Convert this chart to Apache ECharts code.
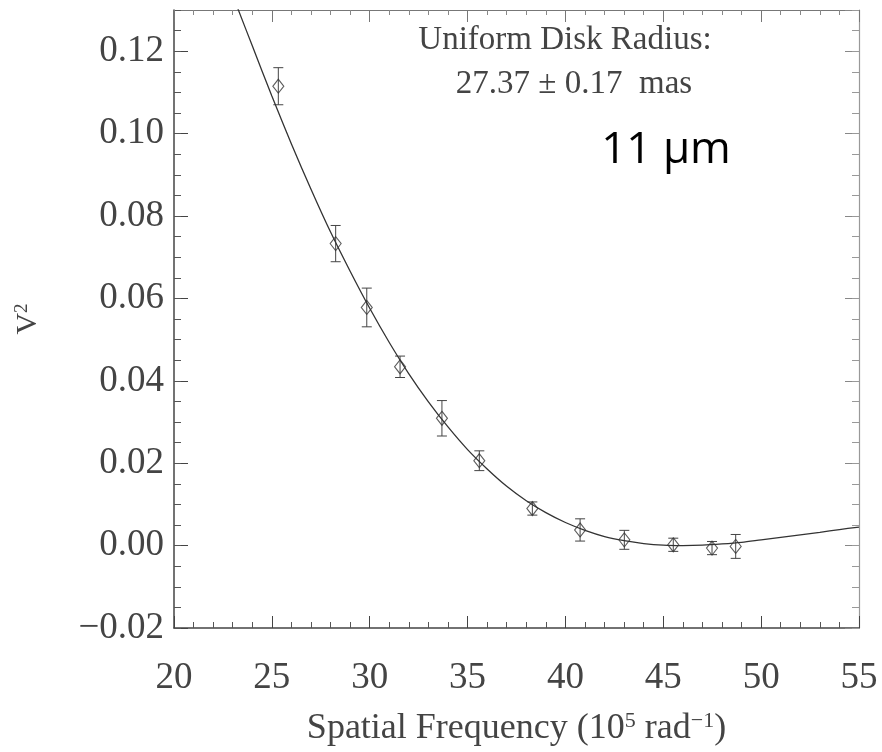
<!DOCTYPE html>
<html>
<head>
<meta charset="utf-8">
<script src="https://cdn.jsdelivr.net/npm/echarts@6/dist/echarts.min.js"></script>
<style>
  html, body { margin: 0; padding: 0; background: #fff; }
  #chart { width: 882px; height: 752px; }
</style>
</head>
<body>
<div id="chart"></div>
<script>
// measured visibilities
var freq = [25.33, 28.26, 29.85, 31.55, 33.69, 35.60, 38.31, 40.75, 43.01, 45.51, 47.49, 48.70]
var vis = [0.1115, 0.0733, 0.0578, 0.0434, 0.0309, 0.0206, 0.0090, 0.0038, 0.0014, 0.0002, -0.0006, -0.0002]
var visErr = [0.0045, 0.0044, 0.0047, 0.0026, 0.0043, 0.0024, 0.0016, 0.0027, 0.0023, 0.0016, 0.0016, 0.0029]

// uniform disk fit curve
var fitFreq = [23.2, 24, 25, 26, 27, 28, 29, 30, 31, 32, 33, 34, 35, 36, 37, 38, 39, 40,
  41, 42, 43, 44, 45, 46, 47, 48, 49, 50, 51, 52, 53, 54, 55]
var fitVis = [0.1311, 0.1213, 0.1091, 0.0975, 0.0865, 0.0761, 0.0666, 0.0576, 0.0493, 0.0417,
  0.0349, 0.0288, 0.0233, 0.0186, 0.0144, 0.0109, 0.0080, 0.0056, 0.0037, 0.0022, 0.0012,
  0.0005, 0.0001, 0.0000, 0.0001, 0.0004, 0.0008, 0.0014, 0.0020, 0.0026, 0.0032, 0.0039, 0.0045]

var serif = 'Liberation Serif'
var txt = '#444'
var chart = echarts.init(document.getElementById('chart'))

var errData = freq.map(function(f, i) {
  return [f, vis[i] - visErr[i], vis[i] + visErr[i]]
})

function yLabel(v) {
  var s = Math.abs(v).toFixed(2)
  return v < -1e-9 ? '\u2212' + s : s
}

chart.setOption({
  animation: false,
  grid: { left: 174, right: 23, top: 10, bottom: 119 },
  xAxis: [{
    type: 'value',
    position: 'bottom',
    min: 20,
    max: 55,
    interval: 5,
    name: 'Spatial Frequency (10{sup|5} rad{sup|\u22121})',
    nameLocation: 'middle',
    nameGap: 82,
    nameTextStyle: {
      fontFamily: serif, fontSize: 36, color: txt,
      rich: { sup: { fontFamily: serif, fontSize: 22, color: txt, verticalAlign: 'top', padding: [0, 0, 16, 0] } }
    },
    axisLine: { onZero: false, lineStyle: { color: '#444', width: 1.5 } },
    axisTick: { inside: true, length: 12, lineStyle: { color: '#444' } },
    minorTick: { show: true, splitNumber: 5, length: 6, lineStyle: { color: '#555' } },
    splitLine: { show: false },
    axisLabel: { fontFamily: serif, fontSize: 37, color: txt, margin: 32 }
  }, {
    type: 'value',
    position: 'top',
    min: 20,
    max: 55,
    interval: 5,
    axisLine: { onZero: false, lineStyle: { color: '#777', width: 1.2 } },
    axisTick: { inside: true, length: 12, lineStyle: { color: '#777' } },
    minorTick: { show: true, splitNumber: 5, length: 5, lineStyle: { color: '#888' } },
    splitLine: { show: false },
    axisLabel: { show: false }
  }],
  yAxis: [{
    type: 'value',
    position: 'left',
    min: -0.02,
    max: 0.13,
    interval: 0.02,
    name: 'V{sup|2}',
    nameLocation: 'middle',
    nameRotate: 90,
    nameGap: 130,
    nameTextStyle: {
      fontFamily: serif, fontSize: 30, color: txt,
      rich: { sup: { fontFamily: serif, fontSize: 19, color: txt, verticalAlign: 'top', padding: [0, 0, 12, 0] } }
    },
    axisLine: { onZero: false, lineStyle: { color: '#444', width: 1.5 } },
    axisTick: { inside: true, length: 14, lineStyle: { color: '#444' } },
    splitLine: { show: false },
    axisLabel: { fontFamily: serif, fontSize: 37, color: txt, margin: 10, showMaxLabel: false, formatter: yLabel }
  }, {
    // minor ticks on the left
    type: 'value',
    position: 'left',
    min: -0.02,
    max: 0.13,
    interval: 0.005,
    axisLine: { show: false, onZero: false },
    axisTick: { inside: true, length: 7, lineStyle: { color: '#555' } },
    splitLine: { show: false },
    axisLabel: { show: false }
  }, {
    type: 'value',
    position: 'right',
    min: -0.02,
    max: 0.13,
    interval: 0.02,
    axisLine: { onZero: false, lineStyle: { color: '#999', width: 1.2 } },
    axisTick: { inside: true, length: 14, lineStyle: { color: '#888' } },
    splitLine: { show: false },
    axisLabel: { show: false }
  }, {
    type: 'value',
    position: 'right',
    min: -0.02,
    max: 0.13,
    interval: 0.005,
    axisLine: { show: false, onZero: false },
    axisTick: { inside: true, length: 7, lineStyle: { color: '#999' } },
    splitLine: { show: false },
    axisLabel: { show: false }
  }],
  graphic: [{
    type: 'text',
    x: 565, y: 40,
    style: { text: 'Uniform Disk Radius:', fontFamily: serif, fontSize: 33, fill: txt, align: 'center', verticalAlign: 'middle' }
  }, {
    type: 'text',
    x: 574, y: 84,
    style: { text: '27.37 \u00b1 0.17  mas', fontFamily: serif, fontSize: 33, fill: txt, align: 'center', verticalAlign: 'middle' }
  }, {
    type: 'text',
    x: 666, y: 150,
    style: { text: '11 \u03bcm', fontFamily: 'Open Sans', fontSize: 44, fill: '#000', align: 'center', verticalAlign: 'middle' }
  }],
  series: [{
    name: 'fit',
    type: 'line',
    xAxisIndex: 0,
    yAxisIndex: 0,
    data: fitFreq.map(function(f, i) { return [f, fitVis[i]] }),
    smooth: 0.3,
    showSymbol: false,
    clip: true,
    lineStyle: { color: '#333', width: 1.3 }
  }, {
    name: 'errors',
    type: 'custom',
    xAxisIndex: 0,
    yAxisIndex: 0,
    data: errData,
    renderItem: function(params, api) {
      var top = api.coord([api.value(0), api.value(2)])
      var bot = api.coord([api.value(0), api.value(1)])
      var w = 5
      var st = { stroke: '#444', lineWidth: 1 }
      return {
        type: 'group',
        children: [
          { type: 'line', shape: { x1: top[0], y1: top[1], x2: bot[0], y2: bot[1] }, style: st },
          { type: 'line', shape: { x1: top[0] - w, y1: top[1], x2: top[0] + w, y2: top[1] }, style: st },
          { type: 'line', shape: { x1: bot[0] - w, y1: bot[1], x2: bot[0] + w, y2: bot[1] }, style: st }
        ]
      }
    }
  }, {
    name: 'data',
    type: 'scatter',
    xAxisIndex: 0,
    yAxisIndex: 0,
    data: freq.map(function(f, i) { return [f, vis[i]] }),
    symbol: 'diamond',
    symbolSize: [11, 14],
    itemStyle: { color: 'rgba(0,0,0,0)', borderColor: '#333', borderWidth: 1.1 }
  }]
})
</script>
</body>
</html>
